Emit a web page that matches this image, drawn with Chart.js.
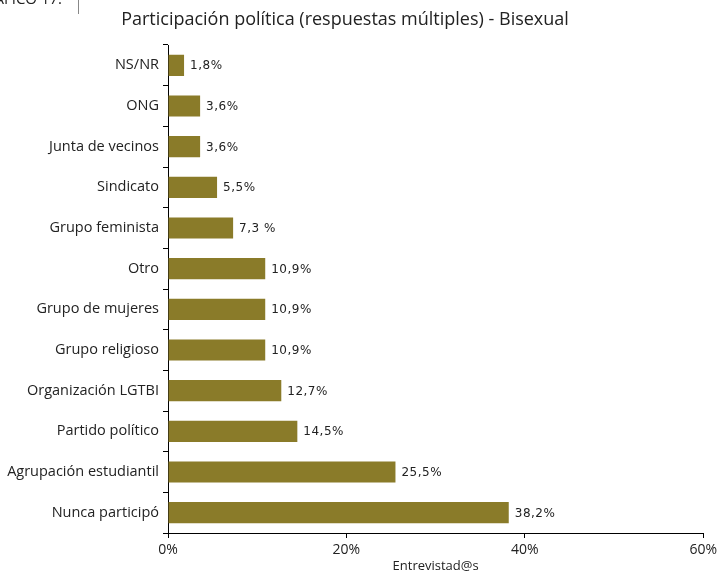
<!DOCTYPE html>
<html><head><meta charset="utf-8">
<script src="https://cdn.jsdelivr.net/npm/chart.js@4/dist/chart.umd.min.js"></script>
<style>html,body{margin:0;padding:0;background:#fff}#wrap{width:721px;height:574px;position:relative}</style>
</head><body><div id="wrap"><canvas id="c" width="721" height="574"></canvas></div>
<script>
const categories = ["NS/NR","ONG","Junta de vecinos","Sindicato","Grupo feminista","Otro","Grupo de mujeres","Grupo religioso","Organización LGTBI","Partido político","Agrupación estudiantil","Nunca participó"];
const values = [1.8,3.6,3.6,5.5,7.3,10.9,10.9,10.9,12.7,14.5,25.5,38.2];
const valueLabels = ["1,8%","3,6%","3,6%","5,5%","7,3 %","10,9%","10,9%","10,9%","12,7%","14,5%","25,5%","38,2%"];
const xTicks = [0,20,40,60];
const titleText = "Participación política (respuestas múltiples) - Bisexual";

const extras = {
  id:'extras',
  afterDraw(chart){
    const ctx = chart.ctx;
    ctx.save();
    ctx.fillStyle = '#222';
    ctx.font = '18px "Open Sans", "Noto Sans", sans-serif';
    ctx.textAlign = 'center'; ctx.textBaseline = 'middle';
    ctx.fillText(titleText, 345, 20);
    ctx.font = '15px "Open Sans", sans-serif';
    ctx.textAlign = 'right'; ctx.textBaseline = 'alphabetic';
    ctx.fillText('GRÁFICO 17.', 62, 4);
    ctx.strokeStyle = '#888'; ctx.lineWidth = 1;
    ctx.beginPath(); ctx.moveTo(78.5,0); ctx.lineTo(78.5,14); ctx.stroke();
    const meta = chart.getDatasetMeta(0);
    ctx.textAlign = 'left';
    ctx.font = '12px "DejaVu Sans", sans-serif';
    ctx.letterSpacing = '0.5px';
    ctx.fillStyle = '#222';
    ctx.textBaseline = 'middle';
    meta.data.forEach((bar,i)=>{
      ctx.fillText(valueLabels[i], bar.x + 6, bar.y + 1);
    });
    ctx.restore();
  }
};

new Chart(document.getElementById('c'), {
  type:'bar',
  data:{labels:categories, datasets:[{data:values, backgroundColor:'#8a7b29', barPercentage:0.52, categoryPercentage:1}]},
  options:{
    indexAxis:'y', responsive:false, animation:false,
    layout:{padding:{top:45,right:14,bottom:0,left:0}},
    plugins:{legend:{display:false}, tooltip:{enabled:false}, title:{display:false}},
    scales:{
      x:{min:0,max:60,
        afterBuildTicks(s){ s.ticks = xTicks.map(v=>({value:v})); },
        afterFit(s){ s.height = 41; },
        border:{color:'#000',width:1},
        grid:{drawOnChartArea:false, tickLength:5, color:'#000'},
        ticks:{callback:v=>v+'%', color:'#222', font:{size:14, family:'"Open Sans", sans-serif'}, padding:4, maxRotation:0},
        title:{display:true, text:'Entrevistad@s', color:'#222', font:{size:13, family:'"Open Sans", sans-serif'}, padding:{top:0,bottom:0}}
      },
      y:{
        afterFit(s){ s.width = 168; },
        border:{color:'#000',width:1},
        grid:{offset:true, drawOnChartArea:false, tickLength:5, color:'#000'},
        ticks:{color:'#222', font:{size:14.5, family:'"Open Sans", sans-serif'}, padding:4, autoSkip:false}
      }
    }
  },
  plugins:[extras]
});
</script></body></html>
